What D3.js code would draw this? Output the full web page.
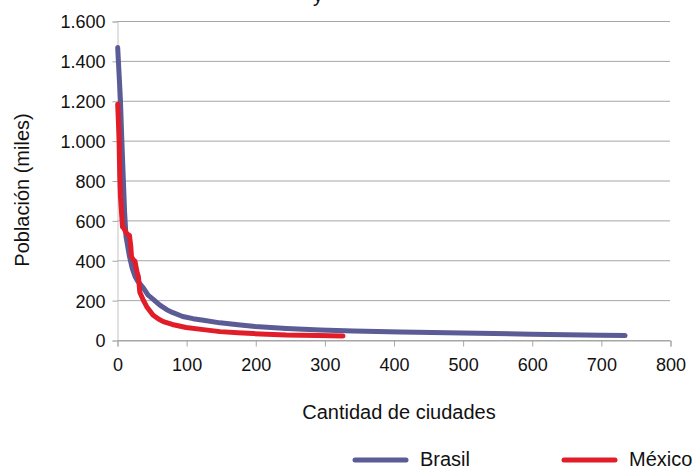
<!DOCTYPE html>
<html><head><meta charset="utf-8">
<script src="https://cdn.jsdelivr.net/npm/d3@7"></script>
<style>body{margin:0;background:#fff}svg{display:block}text{font-family:"Liberation Sans",Arial,sans-serif;fill:#111}</style>
</head><body><svg id="c" width="692" height="467"></svg>
<script>
const xTicks = [0,100,200,300,400,500,600,700,800];
const yTicks = [0,200,400,600,800,1000,1200,1400,1600];
const seriesNames = ["Brasil","México"];
const seriesColors = ["#5b5b96","#e21d2a"];
const brasilRank = [1,2,3,5,7,9,11,13,15,18,22,26,30,38,45,52,62,72,81,95,110,125,149,175,200,245,294,342,410,500,600,700,735];
const brasilPop  = [1467,1400,1333,1200,1000,820,640,520,480,420,360,320,295,262,225,205,175,152,137,118,107,99,86,76,68,58,50,45,40,35,29,24,22];
const mexicoRank = [1,2,3,4,5,6,8,10,14,18,20,21,23,26,29,31,33,38,43,52,60,67,80,100,125,149,175,197,245,290,327];
const mexicoPop  = [1183,1100,1000,820,720,667,567,560,533,525,467,417,405,395,340,317,240,200,167,125,105,92,78,63,52,42,36,32,25,22,20];

const svg = d3.select("#c");
const x = d3.scaleLinear().domain([0,800]).range([117,670]);
const y = d3.scaleLinear().domain([0,1600]).range([340,21]);

// gridlines
svg.append("g").selectAll("line").data(yTicks).join("line")
  .attr("x1",117).attr("x2",670).attr("y1",d=>y(d)+0.5).attr("y2",d=>y(d)+0.5)
  .attr("stroke","#a6a6a6").attr("stroke-width",1);

// y axis
const ya = svg.append("g").attr("transform","translate(117.5,0.5)")
  .call(d3.axisLeft(y).tickValues(yTicks).tickSize(5).tickPadding(7)
    .tickFormat(d=>d3.format(",")(d).replace(/,/g,".")));
ya.select(".domain").attr("stroke","#c4c4c4");
ya.selectAll(".tick line").attr("stroke","#a6a6a6");
ya.selectAll("text").style("font-size","18px").attr("fill","#111").attr("dy","0.36em");

// x axis
const xa = svg.append("g").attr("transform","translate(0.5,340.5)")
  .call(d3.axisBottom(x).tickValues(xTicks).tickSize(6).tickPadding(12));
xa.select(".domain").attr("stroke","#a6a6a6");
xa.selectAll(".tick line").attr("stroke","#a6a6a6");
xa.selectAll("text").style("font-size","18px").attr("fill","#111");

// titles
svg.append("text").attr("x",399).attr("y",419).attr("text-anchor","middle").style("font-size","20px").text("Cantidad de ciudades");
svg.append("text").attr("transform","translate(29,190) rotate(-90)").attr("text-anchor","middle").style("font-size","20px").text("Población (miles)");
svg.append("text").attr("x",318).attr("y",2).attr("text-anchor","middle").style("font-size","20px").text("y");

// lines
const line = d3.line().x(d=>x(d[0])).y(d=>y(d[1]));
const data = [d3.zip(brasilRank,brasilPop), d3.zip(mexicoRank,mexicoPop)];
svg.append("g").selectAll("path").data(data).join("path")
  .attr("d",line).attr("fill","none")
  .attr("stroke",(d,i)=>seriesColors[i]).attr("stroke-width",5)
  .attr("stroke-linejoin","round").attr("stroke-linecap","round");

// legend
const legX = [355,564];
const lg = svg.append("g").selectAll("g").data(seriesNames).join("g")
  .attr("transform",(d,i)=>`translate(${legX[i]},460)`);
lg.append("line").attr("x1",0).attr("x2",51).attr("y1",0).attr("y2",0)
  .attr("stroke",(d,i)=>seriesColors[i]).attr("stroke-width",5).attr("stroke-linecap","round");
lg.append("text").attr("x",65).attr("y",6).style("font-size","20px").text(d=>d);
</script></body></html>
